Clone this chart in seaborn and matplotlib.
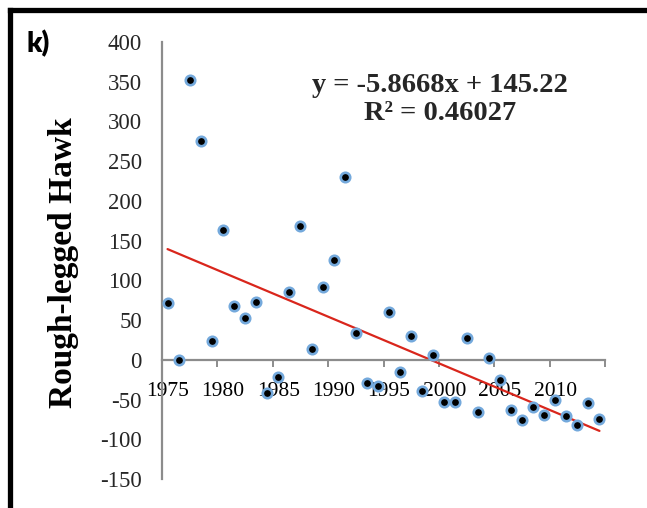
import matplotlib.pyplot as plt
from matplotlib.lines import Line2D
from matplotlib.ticker import FixedLocator
import seaborn as sns
import numpy as np

# Rough-legged Hawk index per year
YEARS = list(range(1975, 2015))
HAWK = [72, 0, 352, 276, 24, 163, 68, 53, 73, -42,
        -21, 85, 169, 14, 92, 126, 230, 34, -29, -33,
        60, -15, 30, -39, 6, -53, -53, 28, -66, 2,
        -26, -63, -76, -60, -70, -50, -71, -82, -54, -74]

# Linear trend as printed on the chart (x = 1, 2, ... year index)
SLOPE = -5.8668
INTERCEPT = 145.22
R2 = 0.46027

YTICKS = [-150, -100, -50, 0, 50, 100, 150, 200, 250, 300, 350, 400]
XTICKS = [1975, 1980, 1985, 1990, 1995, 2000, 2005, 2010]

W, H = 647, 508


def crear_grafico():
    sns.set_theme(style="white")
    plt.rcParams['font.family'] = ['Liberation Serif', 'DejaVu Serif']

    fig = plt.figure(figsize=(W / 100, H / 100), dpi=100)
    ax = fig.add_axes([162 / W, 1 - 479 / H, (605 - 162) / W, (479 - 42) / H])

    years = np.array(YEARS)
    trend = SLOPE * (years - YEARS[0] + 1) + INTERCEPT

    # Trend line
    sns.lineplot(x=years, y=trend, ax=ax, color='#d9261c', linewidth=1.6,
                 zorder=2)

    # Points: black dot with blue halo
    sns.scatterplot(x=years, y=HAWK, ax=ax, color='black', s=46,
                    edgecolor='#74a9dc', linewidth=1.9, zorder=3)

    ax.set_xlim(1974.5, 2014.5)
    ax.set_ylim(-150, 400)

    # Axes lines: x axis through zero
    gris = '#8c8c8c'
    ax.spines['top'].set_visible(False)
    ax.spines['right'].set_visible(False)
    ax.spines['bottom'].set_position(('data', 0))
    for s in ['left', 'bottom']:
        ax.spines[s].set_color(gris)
        ax.spines[s].set_linewidth(1.6)

    ax.set_yticks(YTICKS)
    ax.set_yticklabels([str(v) for v in YTICKS])
    ax.tick_params(axis='y', which='major', direction='out', length=5.5,
                   width=1.4, color=gris, pad=9, labelsize=16.5,
                   labelcolor='#262626')

    # Labels sit on the years, tick marks on the half-year gridlines
    ax.set_xticks(XTICKS)
    ax.set_xticklabels([str(v) for v in XTICKS])
    ax.xaxis.set_minor_locator(FixedLocator(np.arange(1974.5, 2015, 5)))
    ax.tick_params(axis='x', which='major', length=0, pad=16, labelsize=15.5,
                   labelcolor='black')
    ax.tick_params(axis='x', which='minor', direction='out', length=5,
                   width=1.4, color=gris, bottom=True)

    ax.set_xlabel('')
    ax.set_ylabel('')

    # Y label and panel tag
    fig.text(64 / W, 1 - 263 / H, 'Rough-legged Hawk', rotation=90,
             ha='center', va='center', fontsize=24, fontweight='bold',
             color='black')
    fig.text(26 / W, 1 - 44 / H, 'k)', ha='left', va='center', fontsize=20,
             fontweight='heavy', family=['Lato', 'DejaVu Sans'], color='black')

    # Equation of the trend
    fig.text(440 / W, 1 - 85 / H, f'y = {SLOPE}x + {INTERCEPT}',
             ha='center', va='center', fontsize=20.5, fontweight='bold')
    fig.text(440 / W, 1 - 114 / H, f'R² = {R2}',
             ha='center', va='center', fontsize=20.5, fontweight='bold')

    # Thick black frame on the top and left edges
    xl = 9.5 / W
    yt = 1 - 10 / H
    fig.add_artist(Line2D([xl, xl], [yt, -0.02], transform=fig.transFigure,
                          color='black', linewidth=3.8,
                          solid_capstyle='projecting'))
    fig.add_artist(Line2D([xl, 1.02], [yt, yt], transform=fig.transFigure,
                          color='black', linewidth=3.8,
                          solid_capstyle='projecting'))

    return fig


if __name__ == "__main__":
    fig = crear_grafico()
    fig.savefig('out.png', dpi=100)
    plt.close(fig)
